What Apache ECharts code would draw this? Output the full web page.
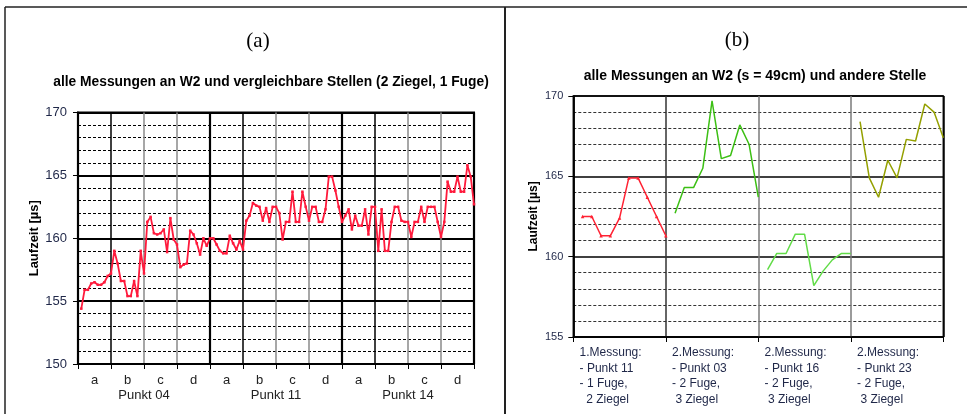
<!DOCTYPE html>
<html>
<head>
<meta charset="utf-8">
<script src="https://cdn.jsdelivr.net/npm/echarts@6/dist/echarts.min.js"></script>
<style>
  html, body { margin: 0; padding: 0; background: #fff; }
  #chart { width: 967px; height: 414px; }
</style>
</head>
<body>
<div id="chart"></div>
<script>
// ---- Panel (a): all measurements at W2 and comparable spots ----
const spotLetters = ['a', 'b', 'c', 'd', 'a', 'b', 'c', 'd', 'a', 'b', 'c', 'd'];
const spotGroups = ['Punkt 04', 'Punkt 11', 'Punkt 14'];
const yTicksA = { min: 150, max: 170, step: 5 };
// ten readings per spot, 120 readings in total
const laufzeitW2 = [
  154.4, 155.9, 155.9, 156.4, 156.5, 156.3, 156.3, 156.5, 157.0, 157.2,
  159.0, 158.0, 156.6, 156.6, 155.4, 155.4, 156.6, 155.4, 159.0, 157.2,
  161.3, 161.7, 160.4, 160.3, 160.4, 160.7, 158.9, 161.6, 159.9, 159.5,
  157.7, 157.9, 158.0, 160.6, 160.3, 159.6, 158.7, 160.0, 159.4, 160.0,
  160.0, 159.5, 159.0, 158.8, 158.8, 160.2, 159.6, 159.1, 159.8, 159.1,
  161.4, 161.8, 162.8, 162.6, 162.5, 161.4, 162.4, 161.3, 162.5, 162.5,
  162.0, 159.9, 161.3, 161.3, 163.7, 161.3, 161.3, 163.7, 162.5, 161.4,
  162.5, 162.5, 161.3, 161.3, 162.3, 164.9, 164.9, 163.8, 162.5, 161.3,
  161.8, 162.3, 160.7, 161.8, 161.0, 161.0, 162.3, 160.3, 162.5, 162.5,
  159.0, 162.3, 159.0, 159.0, 161.3, 162.5, 162.5, 161.4, 161.3, 161.3,
  160.1, 161.3, 161.3, 162.5, 161.3, 162.5, 162.5, 162.5, 161.3, 160.1,
  161.3, 164.5, 163.7, 163.7, 164.9, 163.7, 163.7, 165.8, 164.9, 162.7
];

// ---- Panel (b): W2 (s = 49cm) and another spot ----
const messungLabels = [
  '1.Messung:\n- Punkt 11\n- 1 Fuge,\n  2 Ziegel',
  '2.Messung:\n- Punkt 03\n- 2 Fuge,\n 3 Ziegel',
  '2.Messung:\n- Punkt 16\n- 2 Fuge,\n 3 Ziegel',
  '2.Messung:\n- Punkt 23\n- 2 Fuge,\n 3 Ziegel'
];
const yTicksB = { min: 155, max: 170, step: 5 };
const punkt11 = [162.5, 162.5, 161.3, 161.3, 162.4, 164.9, 164.9, 163.7, 162.5, 161.3];
const punkt03 = [162.7, 164.3, 164.3, 165.5, 169.7, 166.1, 166.3, 168.2, 167.0, 163.7];
const punkt16 = [159.2, 160.2, 160.2, 161.4, 161.4, 158.2, 159.1, 159.8, 160.2, 160.2];
const punkt23 = [168.4, 164.9, 163.7, 166.0, 164.9, 167.3, 167.2, 169.5, 169.0, 167.4];

// readings are spread evenly: ten per category column
function spread(values, column) {
  return values.map((v, i) => [column + (i + 1) / 10, v]);
}

const labelInk = '#1f2748';
const sans = 'Liberation Sans, Arial, sans-serif';

const chart = echarts.init(document.getElementById('chart'), null, { renderer: 'canvas' });

const option = {
  animation: false,
  backgroundColor: '#fff',
  grid: [
    { left: 78, top: 112.5, width: 396, height: 251.5, show: true,
      borderColor: '#000', borderWidth: 2, backgroundColor: '#fff' },
    { left: 573.3, top: 96, width: 370, height: 241, show: true,
      borderColor: '#111', borderWidth: 1.5, backgroundColor: '#fff' }
  ],
  xAxis: [
    // (a) thin column separators
    { type: 'value', gridIndex: 0, position: 'bottom', min: 0, max: 12, interval: 1,
      axisLine: { show: false, onZero: false }, axisTick: { show: false }, axisLabel: { show: false },
      splitLine: { show: true, lineStyle: { color: ['#000', '#000', '#8a8a8a', '#8a8a8a'], width: 1.5 } } },
    // (a) heavy separators between measuring points
    { type: 'value', gridIndex: 0, position: 'bottom', min: 0, max: 12, interval: 4,
      axisLine: { show: false, onZero: false }, axisTick: { show: false }, axisLabel: { show: false },
      splitLine: { show: true, lineStyle: { color: '#000', width: 2.2 } } },
    // (a) spot letters
    { type: 'category', gridIndex: 0, position: 'bottom', data: spotLetters, boundaryGap: true,
      axisLine: { show: true, onZero: false, lineStyle: { color: '#000', width: 2 } },
      axisTick: { show: true, length: 5, interval: 0, lineStyle: { color: '#000', width: 1 } },
      axisLabel: { interval: 0, fontSize: 13, color: '#222', margin: 10, fontFamily: sans },
      splitLine: { show: false } },
    // (a) point names
    { type: 'category', gridIndex: 0, position: 'bottom', data: spotGroups, boundaryGap: true, offset: 15,
      axisLine: { show: false, onZero: false }, axisTick: { show: false },
      axisLabel: { interval: 0, fontSize: 13, color: '#222', margin: 10, fontFamily: sans },
      splitLine: { show: false } },
    // (b) column separators
    { type: 'value', gridIndex: 1, position: 'bottom', min: 0, max: 4, interval: 1,
      axisLine: { show: false, onZero: false }, axisTick: { show: false }, axisLabel: { show: false },
      splitLine: { show: true, lineStyle: { color: ['#000', '#333', '#7a7a7a', '#7a7a7a'], width: 1.5 } } },
    // (b) measurement descriptions
    { type: 'category', gridIndex: 1, position: 'bottom', data: messungLabels, boundaryGap: true,
      axisLine: { show: true, onZero: false, lineStyle: { color: '#000', width: 1.5 } },
      axisTick: { show: true, length: 5, interval: 0, lineStyle: { color: '#000', width: 1 } },
      axisLabel: {
        interval: 0,
        margin: 8,
        formatter: v => v.split('\n').map(l => '{t|' + l + '}').join('\n'),
        rich: { t: { width: 80, align: 'left', fontSize: 12, lineHeight: 15.5, color: labelInk, fontFamily: sans } }
      },
      splitLine: { show: false } }
  ],
  yAxis: [
    { type: 'value', gridIndex: 0, min: yTicksA.min, max: yTicksA.max, interval: yTicksA.step,
      name: 'Laufzeit [µs]', nameLocation: 'middle', nameGap: 34,
      nameTextStyle: { fontWeight: 'bold', fontSize: 13, color: '#000', fontFamily: sans },
      axisLine: { show: true, lineStyle: { color: '#000', width: 2 } },
      axisTick: { show: true, length: 5, lineStyle: { color: '#000' } },
      axisLabel: { fontSize: 13, color: labelInk, margin: 11, fontFamily: sans },
      splitLine: { show: true, lineStyle: { color: '#000', width: 2 } },
      minorTick: { show: false, splitNumber: 5 },
      minorSplitLine: { show: true, lineStyle: { color: '#000', width: 1, type: [3, 2] } } },
    { type: 'value', gridIndex: 1, min: yTicksB.min, max: yTicksB.max, interval: yTicksB.step,
      name: 'Laufzeit [µs]', nameLocation: 'middle', nameGap: 34,
      nameTextStyle: { fontWeight: 'bold', fontSize: 12, color: '#000', fontFamily: sans },
      axisLine: { show: true, lineStyle: { color: '#000', width: 1.5 } },
      axisTick: { show: true, length: 5, lineStyle: { color: '#000' } },
      axisLabel: { fontSize: 11, color: labelInk, margin: 10, fontFamily: sans },
      splitLine: { show: true, lineStyle: { color: '#000', width: 1.5 } },
      minorTick: { show: false, splitNumber: 5 },
      minorSplitLine: { show: true, lineStyle: { color: '#333', width: 1, type: [3, 2] } } }
  ],
  series: [
    { type: 'line', xAxisIndex: 0, yAxisIndex: 0, data: spread(laufzeitW2, 0),
      symbol: 'rect', symbolSize: 2.5, showSymbol: true,
      itemStyle: { color: '#ff1a3c' }, lineStyle: { color: '#ff1a3c', width: 1.8 } },
    { type: 'line', xAxisIndex: 4, yAxisIndex: 1, data: spread(punkt11, 0),
      symbol: 'triangle', symbolSize: 3.5, showSymbol: true,
      itemStyle: { color: '#ff2233' }, lineStyle: { color: '#ff2233', width: 1.5 } },
    { type: 'line', xAxisIndex: 4, yAxisIndex: 1, data: spread(punkt03, 1),
      showSymbol: false, lineStyle: { color: '#3cbf14', width: 1.5 } },
    { type: 'line', xAxisIndex: 4, yAxisIndex: 1, data: spread(punkt16, 2),
      showSymbol: false, lineStyle: { color: '#62dc48', width: 1.5 } },
    { type: 'line', xAxisIndex: 4, yAxisIndex: 1, data: spread(punkt23, 3),
      showSymbol: false, lineStyle: { color: '#94a000', width: 1.5 } }
  ],
  graphic: [
    // panel frames
    { type: 'line', shape: { x1: 5, y1: 7, x2: 967, y2: 7 }, style: { stroke: '#222', lineWidth: 1.5 } },
    { type: 'line', shape: { x1: 5, y1: 7, x2: 5, y2: 414 }, style: { stroke: '#222', lineWidth: 1.5 } },
    { type: 'line', shape: { x1: 505, y1: 7, x2: 505, y2: 414 }, style: { stroke: '#222', lineWidth: 2 } },
    // panel captions
    { type: 'text', x: 258, y: 41, style: { text: '(a)', font: '21px "Liberation Serif", serif', fill: '#000',
      textAlign: 'center', textVerticalAlign: 'middle' } },
    { type: 'text', x: 737, y: 40, style: { text: '(b)', font: '21px "Liberation Serif", serif', fill: '#000',
      textAlign: 'center', textVerticalAlign: 'middle' } },
    // chart titles
    { type: 'text', x: 271, y: 82, style: { text: 'alle Messungen an W2 und vergleichbare Stellen (2 Ziegel, 1 Fuge)',
      font: 'bold 13.8px "Liberation Sans", Arial, sans-serif', fill: '#000', textAlign: 'center', textVerticalAlign: 'middle' } },
    { type: 'text', x: 755, y: 76.5, style: { text: 'alle Messungen an W2 (s = 49cm) und andere Stelle',
      font: 'bold 14px "Liberation Sans", Arial, sans-serif', fill: '#000', textAlign: 'center', textVerticalAlign: 'middle' } }
  ]
};

chart.setOption(option);
</script>
</body>
</html>
